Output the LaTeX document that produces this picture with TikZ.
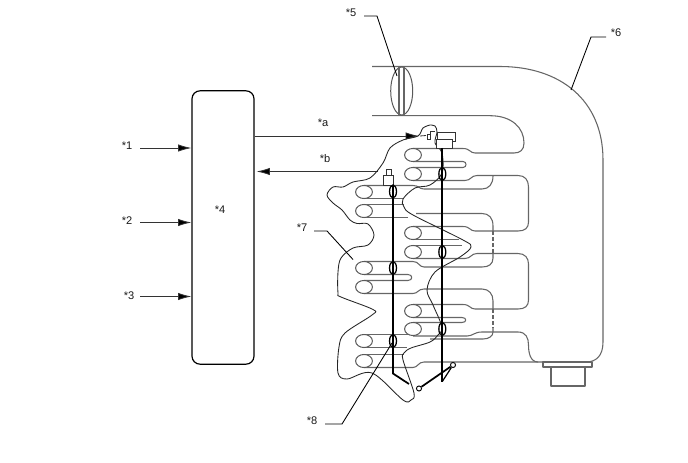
\documentclass[tikz,border=0pt]{standalone}
\usepackage{fontspec}
\setmainfont{Liberation Sans}
\usetikzlibrary{arrows.meta,shapes.geometric}
\tikzset{
 thin line/.style={line width=0.65pt,draw=black!85,line join=round},
 runner/.style={line width=0.8pt,draw=black!60,line join=round},
 heavy/.style={line width=1.3pt,draw=black},
 feed/.style={line width=0.6pt,draw=black!80,-{Latex[length=10pt,width=5.5pt,fill=black]}},
 lbl/.style={font=\fontsize{8.3pt}{9pt}\selectfont,inner sep=0pt,text=black!90},
 leader/.style={line width=0.65pt,draw=black},
 port/.style={line width=0.75pt,draw=black!65,fill=white,ellipse,minimum width=12.6pt,minimum height=9.8pt,inner sep=0pt},
 ring/.style={line width=0.95pt,draw=black,fill=none},
 pin/.style={circle,draw=black,fill=white,line width=0.7pt,minimum size=3.8pt,inner sep=0pt}
}
\begin{document}
\begin{tikzpicture}[x=0.75pt,y=-0.75pt]
\useasboundingbox (0,0) rectangle (688,463);
% ECU
\node[draw=black,line width=0.9pt,rounded corners=6pt,minimum width=46.5pt,minimum height=205pt,inner sep=0pt] (ecu) at (223,227.5) {};
\node[lbl] (l4) at (220,210) {*4};
% inputs
\node[lbl] (l1) at (127,146) {*1};
\node[lbl] (l2) at (127,221) {*2};
\node[lbl] (l3) at (129,296) {*3};
\coordinate (i1) at (140,148); \coordinate (i2) at (140,222.5); \coordinate (i3) at (140,296.5);
\draw[feed] (i1) -- (i1-|ecu.west);
\draw[feed] (i2) -- (i2-|ecu.west);
\draw[feed] (i3) -- (i3-|ecu.west);
% signals
\coordinate (sa) at (419,136); \coordinate (sb) at (378,171.5);
\draw[feed] (sa-|ecu.east) -- (sa);
\draw[feed] (sb) -- ([xshift=1.5pt]sb-|ecu.east);
\node[lbl] (la) at (323,123) {*a};
\node[lbl] (lb) at (325,159) {*b};
% outer casing
\draw[runner] (372,66.5) -- (500,66.5) .. controls (560,66.5) and (603,100) .. (603,160) -- (603,342)
  .. controls (603,356) and (596,362) .. (586,362) -- (538,362)
  .. controls (530,362) and (528.5,352) .. (528.5,345) .. controls (528.5,338) and (526,332) .. (518,332) -- (482,332)
  .. controls (474,332) and (473,336) .. (467,336) -- (413,336);
\draw[runner] (372,115.7) -- (490,115.7) .. controls (512,115.7) and (524,128) .. (524,143) .. controls (524,150) and (520,153) .. (514,153) -- (475,153)
  .. controls (470,153) and (470,148.5) .. (463,148.5) -- (413,148.5);
\draw[runner] (413,180.5) -- (465,180.5) .. controls (471,180.5) and (471,175.5) .. (477,175.5) -- (518,175.5)
  .. controls (525,175.5) and (528.5,180) .. (528.5,187) -- (528.5,222) .. controls (528.5,228) and (525,231) .. (518,231) -- (475,231)
  .. controls (470,231) and (470,226.5) .. (463,226.5) -- (413,226.5);
\draw[runner] (413,258.5) -- (465,258.5) .. controls (471,258.5) and (471,253.5) .. (477,253.5) -- (518,253.5)
  .. controls (525,253.5) and (528.5,258) .. (528.5,264) -- (528.5,300) .. controls (528.5,306) and (525,309) .. (518,309) -- (475,309)
  .. controls (470,309) and (470,304.5) .. (463,304.5) -- (413,304.5);
% plenum inner
\draw[runner] (493,176) .. controls (493,184) and (489,189) .. (482,189) -- (424,189) .. controls (419,189) and (419,185.5) .. (413,185.5) -- (364,185.5);
\draw[runner] (416,213.5) -- (482,213.5) .. controls (489,213.5) and (493,218) .. (493,226) -- (493,231);
\draw[runner,dash pattern=on 3pt off 1.5pt] (493,231) -- (493,253);
\draw[runner] (493,253) -- (493,258) .. controls (493,264) and (489,267) .. (482,267) -- (424,267) .. controls (419,267) and (419,261.5) .. (413,261.5) -- (364,261.5);
\draw[runner] (408,217.5) -- (364,217.5);
\draw[runner] (364,293.5) -- (413,293.5) .. controls (418,293.5) and (418,289) .. (424,289) -- (482,289) .. controls (489,289) and (493,294) .. (493,301) -- (493,309);
\draw[runner,dash pattern=on 3pt off 1.5pt] (493,309) -- (493,328);
\draw[runner] (493,328) -- (493,332) .. controls (493,336) and (489,339) .. (483,339) -- (430,339);
\draw[runner] (364,334.5) -- (408,334.5);
\draw[runner] (364,367.5) -- (413,367.5) .. controls (418,367.5) and (418,362) .. (424,362) -- (538,362);
% slots
\draw[runner] (364,198.5) -- (404,198.5);
\draw[runner] (364,204.5) -- (404,204.5);
\draw[runner] (364,274.5) -- (408,274.5) .. controls (413,274.5) and (413,280.5) .. (408,280.5) -- (364,280.5);
\draw[runner] (364,347.5) -- (407,347.5);
\draw[runner] (364,354.5) -- (404,354.5);
\draw[runner] (413,161.5) -- (463,161.5) .. controls (467,161.5) and (467,167.5) .. (463,167.5) -- (413,167.5);
\draw[runner] (413,239.5) -- (459,239.5);
\draw[runner] (413,245.5) -- (462,245.5);
\draw[runner] (413,317.5) -- (462,317.5) .. controls (467,317.5) and (467,322.5) .. (462,322.5) -- (413,322.5);
% ports
\foreach \n/\x/\y in {p1/413/155,p2/413/174,p3/413/233,p4/413/252,p5/413/311,p6/413/329,q1/364/192,q2/364/211,q3/364/268,q4/364/287,q5/364/341,q6/364/361}{
 \node[port] (\n) at (\x,\y) {};
}
% throttle
\node[draw=black!65,line width=0.75pt,ellipse,minimum width=16.5pt,minimum height=36pt,inner sep=0pt] (thr) at (401.7,91) {};
\draw[runner] (399,67) -- (399,115);
\draw[runner] (404,67) -- (404,115);
% bank outline
\draw[thin line] plot[smooth,tension=0.55] coordinates {
 (430,125) (423,128) (418,136) (403,140) (390,148) (383,163) (370,178) (353,182) (343,187) (333,187) (327,195) (333,203) (342,210) (350,220) (357,223.5) (368,224) (374,235) (368,245) (353,248) (341,258) (338,272) (338,293) (341,297) (373,309.5) (372,315) (345,333) (339,347) (338,373) (347,379) (372,373) (403,400) (411,400) (414,393) (403,360) (404,353) (411,348) (430,342) (438,335) (442,327) (433,305) (427,290) (435,272) (460,257) (471,247) (463,240) (413,215) (404,207) (403,199) (415,188) (430,185) (442,173) (442,153) (435,143) (437,132) (435,126) (430,125)};
% sensors
\draw[line width=0.6pt,draw=black!80,fill=white] (437,132) rectangle (455,141);
\draw[line width=0.6pt,draw=black!80,fill=white] (436,139) rectangle (452,148);
\draw[line width=0.6pt,draw=black!80,fill=white] (427,134) rectangle (430,139);
\draw[line width=0.6pt,draw=black!80] (435,131.5) -- (430,131.5) -- (430,140);
\draw[line width=0.6pt,draw=black!80] (420,136) -- (426,135.5);
\draw[line width=0.6pt,draw=black!80,fill=white] (383,175) rectangle (393,185);
\draw[line width=0.6pt,draw=black!80,fill=white] (386,169) rectangle (391,175);
% heavy wiring
\coordinate (hl) at (393,185); \coordinate (hlb) at (393,373.5); \coordinate (hle) at (409,384);
\coordinate (hr) at (442.3,148); \coordinate (hrb) at (442.3,381.5);
\draw[heavy] (hl) -- (hlb) -- (hle);
\draw[heavy] (hr) -- (hrb);
\node[pin] (s1) at (419,388.5) {};
\node[pin] (s2) at (453,365) {};
\draw[heavy] (s1) -- (s2);
\draw[line width=0.9pt] (s2) -- (hrb);
\foreach \n/\x/\y in {r1/393/191.5,r2/393/268,r3/393/341,r4/442.3/174,r5/442.3/252,r6/442.3/329}{
 \node[ring,ellipse,minimum width=5.2pt,minimum height=9.8pt,inner sep=0pt] (\n) at (\x,\y) {};
}
% connector
\draw[runner,fill=white] (543,362) rectangle (592,367);
\draw[runner,fill=white] (551,367) rectangle (585,386);
% leaders
\node[lbl] (l5) at (351,13) {*5};
\node[lbl] (l6) at (616,33) {*6};
\node[lbl] (l7) at (302,228) {*7};
\node[lbl] (l8) at (312,421) {*8};
\coordinate (k5) at (397,76); \coordinate (k6) at (571,90); \coordinate (k7) at (353,259.5); \coordinate (k8) at (392,343);
\coordinate (b5) at (377,16); \coordinate (b6) at (591,37); \coordinate (b7) at (327,231); \coordinate (b8) at (342,424);
\draw[leader] (364,16) -- (b5) -- (k5);
\draw[leader] (606,37) -- (b6) -- (k6);
\draw[leader] (314,231) -- (b7) -- (k7);
\draw[leader] (325,424) -- (b8) -- (k8);
\end{tikzpicture}
\end{document}
